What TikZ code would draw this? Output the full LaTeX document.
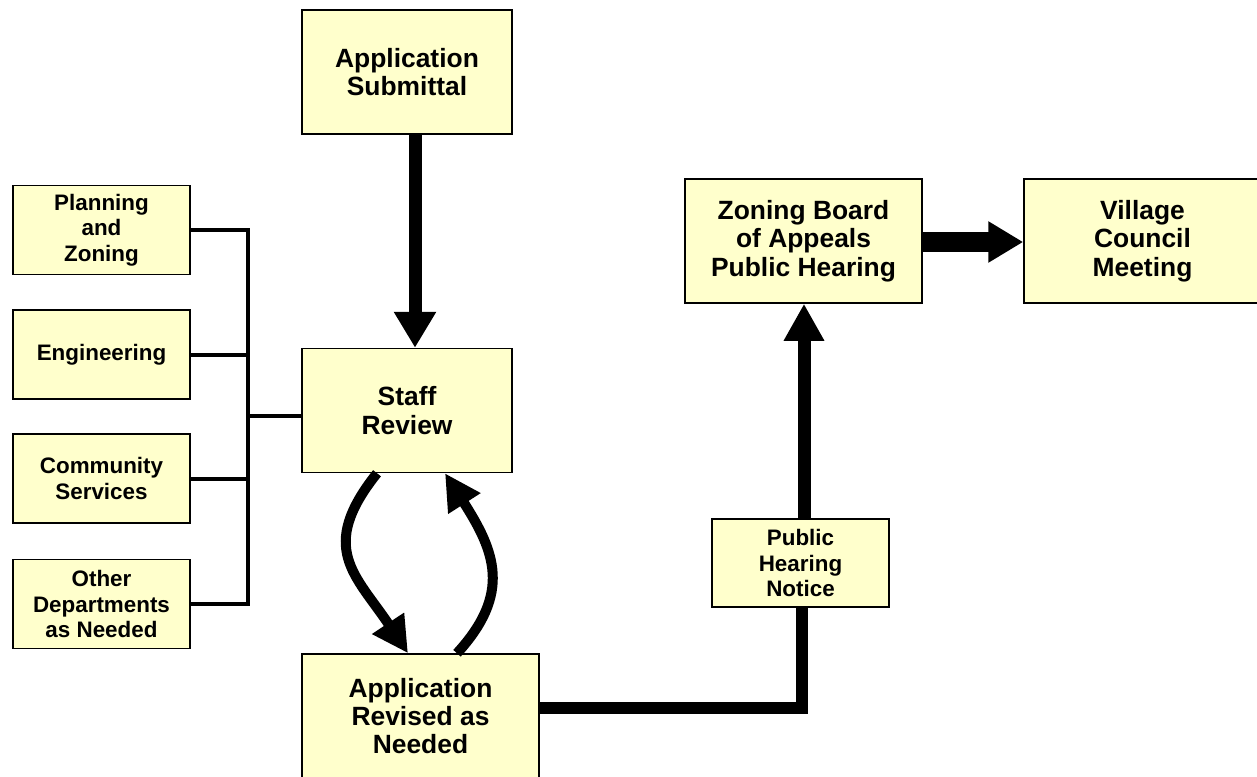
\documentclass[tikz,border=0pt]{standalone}
\usepackage{fontspec}
\setmainfont{Liberation Sans}
\usetikzlibrary{arrows.meta}
\definecolor{boxfill}{HTML}{FFFFCC}
\begin{document}
\begin{tikzpicture}[x=0.5pt,y=-0.5pt,
  bigbox/.style={draw=black,line width=0.75pt,fill=boxfill,align=center,
    minimum width=105pt,minimum height=62pt,inner sep=2pt,
    font=\fontsize{13.2}{14.2}\selectfont\bfseries},
  deptbox/.style={bigbox,minimum width=88.5pt,minimum height=44.5pt,
    font=\fontsize{11.2}{12.8}\selectfont\bfseries},
  bus/.style={line width=2pt},
  flow/.style={line width=6.5pt,-{Triangle[width=20pt,length=18pt]}},
  loop/.style={line width=5pt,-{Triangle[width=18pt,length=18pt]}}]
  \useasboundingbox (0,0) rectangle (1257,776);
  % Main column
  \node[bigbox] (submittal) at (407,72) {Application\\Submittal};
  \node[bigbox] (staff) at (407,410.5) {Staff\\Review};
  \node[bigbox,minimum width=118.5pt] (revised) at (420.5,716) {Application\\Revised as\\Needed};
  % Departments
  \node[deptbox] (plan) at (101.5,230) {Planning\\and\\Zoning};
  \node[deptbox] (eng) at (101.5,354.5) {Engineering};
  \node[deptbox] (comm) at (101.5,478.5) {Community\\Services};
  \node[deptbox] (other) at (101.5,604) {Other\\Departments\\as Needed};
  % Hearing side
  \node[deptbox,minimum height=44pt] (notice) at (800.5,563) {Public\\Hearing\\Notice};
  \node[bigbox,minimum width=118.5pt] (zba) at (803.5,241) {Zoning Board\\of Appeals\\Public Hearing};
  \node[bigbox,minimum width=118.5pt] (village) at (1142.5,241) {Village\\Council\\Meeting};
  % Bus to staff review
  \draw[bus] (plan.east) -- ++(57,0) |- (other.east);
  \draw[bus] (eng.east) -- ++(57,0);
  \draw[bus] (comm.east) -- ++(57,0);
  \draw[bus] ([yshift=-2.75pt]staff.west) -- ++(-55,0);
  % Flow
  \draw[flow] ([xshift=4pt]submittal.south) -- ([xshift=4pt]staff.north);
  \draw[loop] ([xshift=-15pt]staff.south) .. controls +(-60,75) and +(-52,-78) .. ([xshift=-6.25pt]revised.north);
  \draw[loop] ([xshift=18.25pt]revised.north) .. controls +(55,-60) and +(50,78) .. ([xshift=19pt]staff.south);
  \draw[line width=6pt] ([yshift=4pt]revised.east) -| ([xshift=0.75pt]notice.south);
  \draw[flow,-{Triangle[width=19pt,length=18.5pt]}] ([xshift=1.75pt]notice.north) -- ([xshift=1.75pt]notice.north |- zba.south);
  \draw[line width=10pt,-{Triangle[width=19.5pt,length=17.5pt]}] ([yshift=-0.5pt]zba.east) -- ([yshift=-0.5pt]village.west);
\end{tikzpicture}
\end{document}
